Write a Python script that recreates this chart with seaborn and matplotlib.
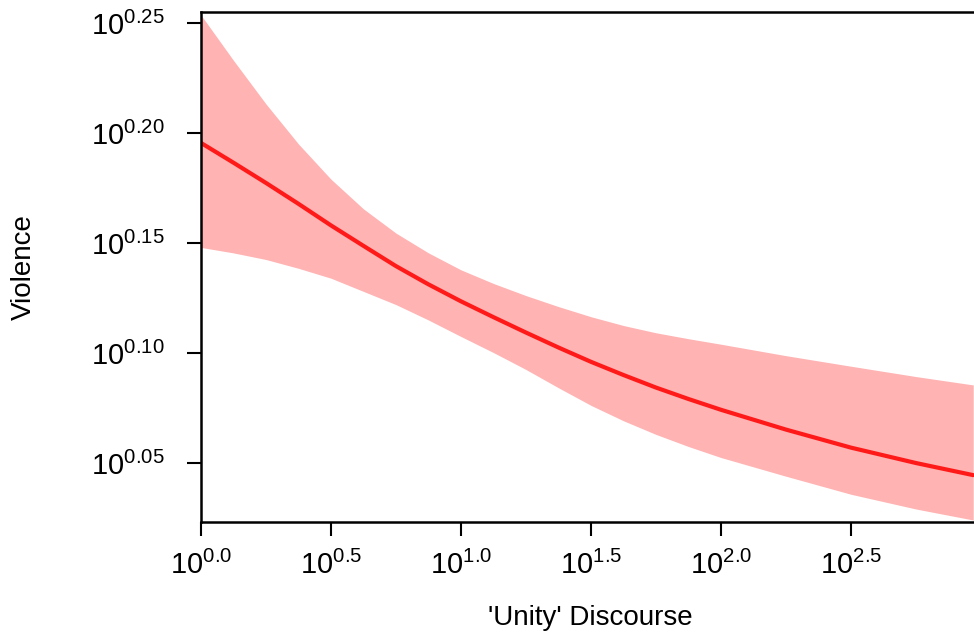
import numpy as np
import pandas as pd
import matplotlib
matplotlib.use("Agg")
import matplotlib.pyplot as plt
import seaborn as sns

# exponents (log10)
x_exp = [0.0, 0.125, 0.25, 0.375, 0.5, 0.625, 0.75, 0.875, 1.0, 1.125, 1.25, 1.375,
         1.5, 1.625, 1.75, 1.875, 2.0, 2.25, 2.5, 2.75, 2.97]
fit_exp = [0.1955, 0.1865, 0.1773, 0.1678, 0.158, 0.1487, 0.1395, 0.1312, 0.1235, 0.1163,
           0.1093, 0.1025, 0.0960, 0.0900, 0.0843, 0.0791, 0.0742, 0.0652, 0.0570, 0.0500, 0.0445]
upper_exp = [0.2536, 0.2330, 0.2132, 0.1950, 0.1790, 0.1655, 0.1545, 0.1455, 0.1378, 0.1316,
             0.1261, 0.1211, 0.1165, 0.1125, 0.1092, 0.1065, 0.1040, 0.0988, 0.0940, 0.0893, 0.0855]
lower_exp = [0.148, 0.1455, 0.1425, 0.1385, 0.1340, 0.1280, 0.1220, 0.1150, 0.1075, 0.1002,
             0.0925, 0.0842, 0.0762, 0.0692, 0.0630, 0.0575, 0.0525, 0.0440, 0.0358, 0.0291, 0.0241]

xtick_exp = [0.0, 0.5, 1.0, 1.5, 2.0, 2.5]
xtick_labels = ["0.0", "0.5", "1.0", "1.5", "2.0", "2.5"]
ytick_exp = [0.05, 0.10, 0.15, 0.20, 0.25]
ytick_labels = ["0.05", "0.10", "0.15", "0.20", "0.25"]

sns.set_style("white")
plt.rcParams["font.family"] = ["Liberation Sans", "DejaVu Sans"]
plt.rcParams["mathtext.fontset"] = "custom"
plt.rcParams["mathtext.rm"] = "Liberation Sans"
plt.rcParams["mathtext.it"] = "Liberation Sans:italic"
plt.rcParams["mathtext.bf"] = "Liberation Sans:bold"
plt.rcParams["text.color"] = "black"
plt.rcParams["axes.labelcolor"] = "black"
plt.rcParams["xtick.color"] = "black"
plt.rcParams["ytick.color"] = "black"

df = pd.DataFrame({
    "x": 10 ** np.array(x_exp),
    "fit": 10 ** np.array(fit_exp),
    "upper": 10 ** np.array(upper_exp),
    "lower": 10 ** np.array(lower_exp),
})

fig = plt.figure(figsize=(9.74, 6.36), dpi=100)
ax = fig.add_axes([201 / 974, 1 - 522 / 636, 780 / 974, 510 / 636])

ax.fill_between(df["x"], df["lower"], df["upper"], color="#FFB3B3", linewidth=0)
sns.lineplot(data=df, x="x", y="fit", ax=ax, color="#FF1A1A", linewidth=3)

ax.set_xscale("log")
ax.set_yscale("log")
ax.set_xlim(1, 10 ** 3.0)
ax.set_ylim(10 ** 0.0232, 10 ** 0.255)

ax.set_xticks(10 ** np.array(xtick_exp))
ax.set_xticklabels([r"$\mathregular{10^{%s}}$" % s for s in xtick_labels])
ax.set_yticks(10 ** np.array(ytick_exp))
ax.set_yticklabels([r"$\mathregular{10^{%s}}$" % s for s in ytick_labels])
ax.xaxis.set_minor_locator(matplotlib.ticker.NullLocator())
ax.yaxis.set_minor_locator(matplotlib.ticker.NullLocator())

ax.tick_params(axis="both", which="major", direction="out", length=10, width=1.5,
               labelsize=21, color="black", labelcolor="black", bottom=True, left=True)
ax.tick_params(axis="x", pad=11)
ax.tick_params(axis="y", pad=16)

for side in ["left", "bottom", "top"]:
    ax.spines[side].set_visible(True)
    ax.spines[side].set_color("black")
    ax.spines[side].set_linewidth(1.8)
ax.spines["right"].set_visible(False)

ax.set_xlabel("'Unity' Discourse", fontsize=20, color="black")
ax.set_ylabel("Violence", fontsize=20, color="black")
ax.xaxis.label.set_va("center")
ax.yaxis.label.set_va("center")
ax.xaxis.set_label_coords(0.499, (522 - 618) / 510)
ax.yaxis.set_label_coords((24 - 201) / 780, 0.5)

fig.savefig("out.png", dpi=100)
